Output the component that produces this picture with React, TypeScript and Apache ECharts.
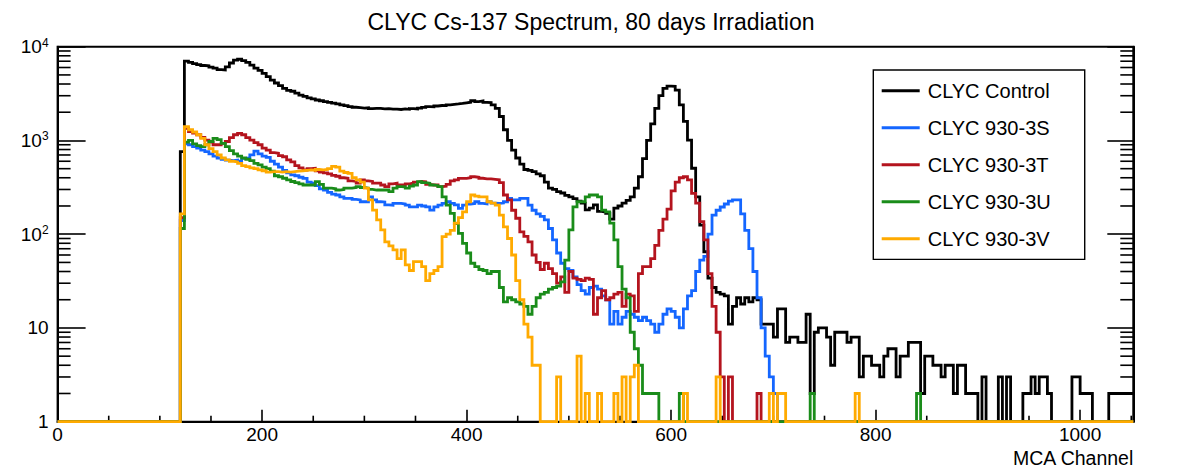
import React, { useEffect, useRef } from 'react';
import * as echarts from 'echarts';

const FONT = '"Liberation Sans", Arial, Helvetica, sans-serif';

// Histogram binning: 4 channels per bin, 0 .. 1052
const BIN_WIDTH = 4;
const N_BINS = 263;
const FIRST_BIN = 30; // counts arrays start at channel 120
const X_MAX = 1052;

const seriesNames = ['CLYC Control', 'CLYC 930-3S', 'CLYC 930-3T', 'CLYC 930-3U', 'CLYC 930-3V'];
const seriesColors = ['#000000', '#1466ff', '#b4141e', '#1a8c1a', '#ffaa00'];

// Counts per bin, starting at bin FIRST_BIN
const controlCounts = [
  760, 7000, 6800, 6600, 6450, 6300, 6250, 6050, 5900, 5700,
  5650, 6100, 6700, 7200, 7350, 7100, 6800, 6350, 5900, 5600,
  5200, 4800, 4400, 4100, 3850, 3600, 3420, 3350, 3200, 3050,
  2950, 2850, 2780, 2700, 2650, 2600, 2550, 2500, 2450, 2400,
  2350, 2300, 2260, 2240, 2210, 2230, 2190, 2200, 2200, 2170,
  2180, 2160, 2160, 2140, 2170, 2150, 2190, 2170, 2210, 2250,
  2290, 2280, 2330, 2360, 2350, 2400, 2430, 2450, 2480, 2520,
  2560, 2650, 2600, 2640, 2550, 2530, 2400, 2200, 1800, 1300,
  1000, 790, 650, 560, 490, 480, 465, 440, 420, 360,
  310, 300, 285, 275, 260, 250, 240, 225, 215, 182,
  190, 205, 175, 172, 167, 145, 190, 200, 215, 230,
  250, 310, 410, 640, 1000, 1500, 2200, 3000, 3600, 3800,
  3780, 3450, 2400, 1600, 1010, 505, 250, 125, 65, 34,
  27, 24, 23, 22, 11, 17, 21, 18, 21, 19,
  21, 20, 11, 11, 11, 8, 16, 16, 7, 8,
  8, 7, 7, 14, 2, 9, 10, 10, 8, 4,
  9, 9, 9, 7, 8, 8, 3, 5, 5, 4,
  4, 3, 5, 6, 6, 3, 5, 5, 7, 7,
  7, 2, 5, 5, 4, 4, 3, 4, 4, 2,
  4, 4, 2, 2, 2, 0, 3, 0, 0, 0,
  3, 0, 3, 0, 0, 0, 2, 2, 3, 2,
  3, 3, 2, 0, 0, 0, 0, 0, 3, 3,
  2, 2, 2, 0, 0, 0, 0, 2, 2, 2,
  2, 2, 2,
];

const counts3S = [
  140, 920, 900, 860, 830, 790, 760, 720, 680, 650,
  630, 618, 610, 618, 600, 644, 650, 700, 770, 720,
  680, 660, 600, 560, 520, 480, 450, 430, 420, 405,
  394, 360, 350, 330, 305, 296, 280, 268, 262, 250,
  241, 241, 235, 232, 222, 222, 250, 232, 222, 220,
  205, 204, 213, 213, 210, 204, 196, 196, 204, 200,
  196, 181, 196, 204, 213, 222, 213, 205, 189, 204,
  210, 213, 222, 213, 210, 222, 215, 213, 215, 222,
  241, 232, 232, 241, 241, 204, 180, 165, 155, 142,
  115, 87, 63, 49, 43, 41, 35, 29, 25, 23,
  27, 28, 26, 22, 20, 11, 15, 11, 13, 15,
  14, 13, 12, 13, 12, 11, 9, 11, 14, 16,
  15, 13, 10, 16, 22, 25, 40, 53, 58, 100,
  160, 180, 195, 210, 225, 232, 232, 165, 110, 70,
  40, 21, 10, 5, 3, 2,
];

const counts3T = [
  150, 1350, 1240, 1200, 1150, 1080, 1010, 960, 900, 900,
  930, 975, 1070, 1150, 1190, 1150, 1070, 1010, 950, 900,
  830, 790, 740, 730, 690, 670, 620, 590, 540, 510,
  484, 500, 505, 475, 460, 450, 440, 425, 415, 400,
  395, 370, 365, 350, 380, 370, 365, 350, 350, 335,
  322, 345, 350, 335, 335, 345, 350, 360, 365, 362,
  340, 335, 335, 322, 325, 340, 370, 380, 394, 394,
  400, 410, 405, 395, 390, 390, 385, 380, 355, 262,
  232, 180, 148, 106, 95, 83, 60, 50, 42, 49,
  43, 38, 30, 35, 24, 40, 34, 33, 32, 34,
  33, 14, 21, 25, 20, 21, 23, 24, 17, 23,
  22, 15, 38, 45, 45, 55, 76, 110, 145, 185,
  290, 360, 400, 410, 380, 272, 214, 136, 87, 38,
  17, 9, 3, 0, 3,
];

const counts3U = [
  115, 960, 1000, 920, 880, 860, 900, 975, 1050, 1020,
  930, 860, 780, 720, 680, 650, 630, 610, 570, 550,
  520, 500, 470, 420, 410, 395, 380, 365, 355, 345,
  335, 335, 335, 364, 340, 310, 310, 305, 296, 300,
  310, 310, 315, 322, 315, 310, 300, 296, 296, 296,
  296, 284, 310, 322, 320, 310, 325, 335, 364, 355,
  350, 335, 330, 322, 250, 204, 167, 130, 102, 80,
  63, 49, 45, 42, 41, 38, 40, 40, 27, 19,
  21, 20, 19, 18, 17, 14, 17, 21, 23, 24,
  26, 27, 28, 31, 53, 111, 196, 222, 222, 250,
  262, 262, 250, 181, 173, 131, 87, 45, 26, 21,
  9, 6, 4, 2, 2, 2, 2,
];

const counts3V = [
  165, 1400, 1300, 1230, 1150, 1050, 900, 820, 760, 700,
  650, 620, 600, 590, 570, 540, 525, 510, 500, 485,
  475, 460, 465, 465, 460, 465, 460, 465, 470, 475,
  480, 485, 480, 490, 485, 490, 500, 530, 520, 470,
  455, 445, 400, 380, 360, 310, 232, 181, 142, 111,
  83, 75, 68, 55, 68, 47, 41, 51, 51, 45,
  32, 38, 41, 45, 94, 100, 110, 131, 150, 173,
  222, 262, 255, 250, 250, 222, 215, 204, 160, 120,
  90, 60, 32, 20, 11, 8, 4, 4,
];

// Isolated low-count bins in the tails: [bin, counts]
const spikes3S: [number, number][] = [];
const spikes3T: [number, number][] = [[171, 2]];
const spikes3U: [number, number][] = [[152, 2], [184, 2], [210, 2]];
const spikes3V: [number, number][] = [
  [122, 3], [127, 5], [129, 2], [132, 2], [136, 2], [138, 3], [140, 3], [141, 4],
  [153, 2], [161, 3], [174, 2], [176, 2], [177, 2], [195, 2],
];
const spikesControl: [number, number][] = [];

const countsList = [controlCounts, counts3S, counts3T, counts3U, counts3V];
const spikesList = [spikesControl, spikes3S, spikes3T, spikes3U, spikes3V];

// Axis ticks
const X_MAJOR_STEP = 200;
const xMinorTicks = [50, 100, 150, 250, 300, 350, 450, 500, 550, 650, 700, 750, 850, 900, 950, 1050];
const yMinorTicks = [
  2, 3, 4, 5, 6, 7, 8, 9,
  20, 30, 40, 50, 60, 70, 80, 90,
  200, 300, 400, 500, 600, 700, 800, 900,
  2000, 3000, 4000, 5000, 6000, 7000, 8000, 9000,
];

function toSteps(counts: number[], spikes: [number, number][]) {
  const byBin: number[] = new Array(N_BINS).fill(0);
  counts.forEach((c, j) => {
    byBin[FIRST_BIN + j] = c;
  });
  spikes.forEach(([b, c]) => {
    byBin[b] = c;
  });
  // empty bins sit on the axis floor of the log scale
  const pts = byBin.map((c, i) => [i * BIN_WIDTH, Math.max(c, 1)]);
  pts.push([N_BINS * BIN_WIDTH, Math.max(byBin[N_BINS - 1], 1)]);
  return pts;
}

function buildOption() {
  const lineSeries = seriesNames.map((name, k) => ({
    name,
    type: 'line',
    step: 'end',
    data: toSteps(countsList[k], spikesList[k]),
    showSymbol: false,
    symbol: 'none',
    clip: false,
    silent: true,
    z: 3 + k,
    lineStyle: { color: seriesColors[k], width: 2.8, join: 'miter' },
    itemStyle: { color: seriesColors[k] },
  }));

  const tickStyle = { stroke: '#000', lineWidth: 1.6 };

  const yMinorSeries = {
    type: 'custom',
    silent: true,
    z: 1,
    data: yMinorTicks.map((v) => [0, v]),
    renderItem: (params: any, api: any) => {
      const cs = params.coordSys;
      const y = api.coord([api.value(0), api.value(1)])[1];
      return {
        type: 'group',
        children: [
          { type: 'line', shape: { x1: cs.x, y1: y, x2: cs.x + 13, y2: y }, style: tickStyle },
          { type: 'line', shape: { x1: cs.x + cs.width - 13, y1: y, x2: cs.x + cs.width, y2: y }, style: tickStyle },
        ],
      };
    },
  };

  const xMinorSeries = {
    type: 'custom',
    silent: true,
    z: 1,
    data: xMinorTicks.map((v) => [v, 1]),
    renderItem: (_params: any, api: any) => {
      const p = api.coord([api.value(0), api.value(1)]);
      return { type: 'line', shape: { x1: p[0], y1: p[1], x2: p[0], y2: p[1] - 6 }, style: tickStyle };
    },
  };

  const logLabel = (v: number) => {
    const k = Math.round(Math.log10(v));
    if (k < 2) return String(Math.round(v));
    return `{b|10}{s|${k}}`;
  };

  return {
    animation: false,
    backgroundColor: '#ffffff',
    title: {
      text: 'CLYC Cs-137 Spectrum, 80 days Irradiation',
      left: 'center',
      top: 5,
      textStyle: { fontSize: 23, fontWeight: 'normal', fontFamily: FONT, color: '#000' },
    },
    legend: {
      data: seriesNames,
      orient: 'vertical',
      left: 873.3,
      top: 70,
      padding: [8.7, 34, 8.7, 8.4],
      itemGap: 13,
      itemWidth: 38,
      itemHeight: 3,
      icon: 'rect',
      selectedMode: false,
      borderColor: '#000',
      borderWidth: 1.4,
      backgroundColor: '#fff',
      textStyle: { fontSize: 20, lineHeight: 24, fontFamily: FONT, color: '#000', padding: [0, 0, 0, 3] },
    },
    grid: {
      left: 57.6,
      right: 48.7,
      top: 46.7,
      bottom: 47.3,
      show: true,
      borderColor: '#000',
      borderWidth: 2,
      backgroundColor: 'transparent',
    },
    xAxis: {
      type: 'value',
      min: 0,
      max: X_MAX,
      interval: X_MAJOR_STEP,
      axisLine: { show: true, onZero: false, lineStyle: { color: '#000', width: 2 } },
      axisTick: { show: true, inside: true, length: 12, lineStyle: { color: '#000', width: 1.6 } },
      axisLabel: {
        formatter: (v: number) => (v % X_MAJOR_STEP === 0 ? String(v) : ''),
        color: '#000',
        fontSize: 19,
        fontFamily: FONT,
        margin: 3,
      },
      splitLine: { show: false },
      name: 'MCA Channel',
      nameLocation: 'end',
      nameGap: 0,
      nameTextStyle: {
        color: '#000',
        fontSize: 19.5,
        fontFamily: FONT,
        align: 'right',
        verticalAlign: 'top',
        padding: [26, 0, 0, 0],
      },
    },
    yAxis: [
      {
        type: 'log',
        logBase: 10,
        min: 1,
        max: 10000,
        axisLine: { show: true, lineStyle: { color: '#000', width: 2 } },
        axisTick: { show: true, inside: true, length: 28, lineStyle: { color: '#000', width: 1.6 } },
        axisLabel: {
          formatter: logLabel,
          color: '#000',
          fontSize: 19,
          fontFamily: FONT,
          margin: 9,
          rich: {
            b: { fontSize: 19, fontFamily: FONT, color: '#000', lineHeight: 20 },
            s: { fontSize: 12, fontFamily: FONT, color: '#000', verticalAlign: 'top', lineHeight: 12 },
          },
        },
        splitLine: { show: false },
      },
      {
        type: 'log',
        logBase: 10,
        min: 1,
        max: 10000,
        position: 'right',
        axisLine: { show: true, lineStyle: { color: '#000', width: 2 } },
        axisTick: { show: true, inside: true, length: 26, lineStyle: { color: '#000', width: 1.6 } },
        axisLabel: { show: false },
        splitLine: { show: false },
      },
    ],
    series: [yMinorSeries, xMinorSeries, ...lineSeries],
  };
}

export default function App() {
  const ref = useRef<HTMLDivElement>(null);
  useEffect(() => {
    if (!ref.current) return;
    const chart = echarts.init(ref.current, undefined, { renderer: 'svg' });
    chart.setOption(buildOption() as any);
    return () => {
      chart.dispose();
    };
  }, []);
  return (
    <div
      ref={ref}
      style={{ position: 'fixed', left: 0, top: 0, width: 1182, height: 469, background: '#fff' }}
    />
  );
}
